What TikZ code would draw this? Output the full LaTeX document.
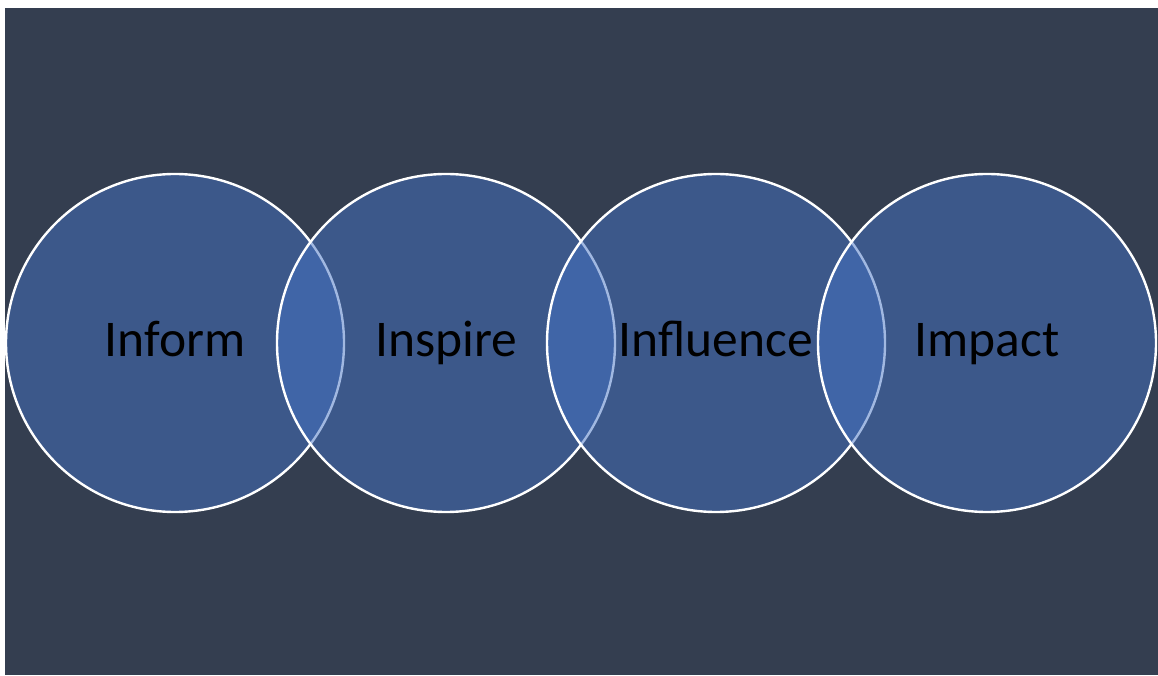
\documentclass[tikz,border=0pt]{standalone}
\usepackage{fontspec}
\setmainfont{Carlito}
\definecolor{bgc}{HTML}{343E50}
\definecolor{circc}{HTML}{4472C4}
\tikzset{
  venn/.style={circle, minimum size=338pt, inner sep=0pt, fill=circc, fill opacity=0.5, draw=white, draw opacity=1, line width=2.4pt},
  lbl/.style={anchor=base, inner sep=0pt, text=black, font=\fontsize{51.5}{60}\selectfont}
}
\begin{document}
\begin{tikzpicture}[x=1pt,y=1pt]
\useasboundingbox (0,0) rectangle (1158,675);
\fill[bgc] (5,0) rectangle (1158,667);
\node[venn] (c1) at (175,332) {};
\node[venn] (c2) at (446,332) {};
\node[venn] (c3) at (716,332) {};
\node[venn] (c4) at (987,332) {};
\node[lbl] (t1) at (175,318) {Inform};
\node[lbl] (t2) at (446,318) {Inspire};
\node[lbl] (t3) at (716,318) {Influence};
\node[lbl] (t4) at (987,318) {Impact};
\end{tikzpicture}
\end{document}
